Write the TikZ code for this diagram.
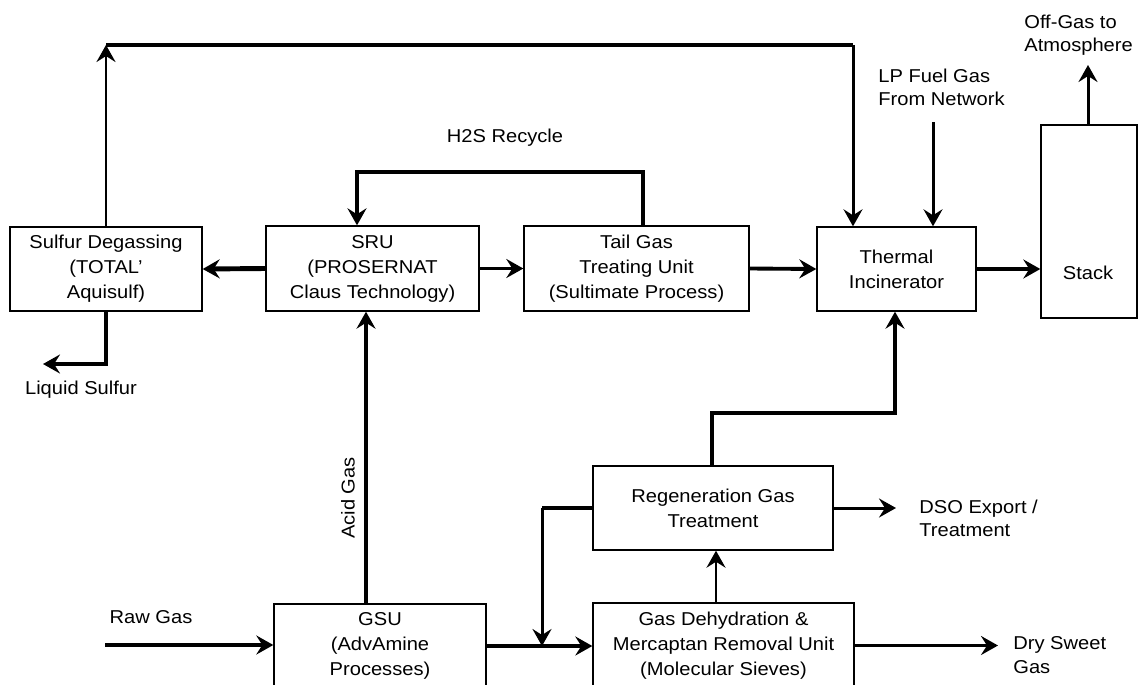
\documentclass[tikz,border=0pt]{standalone}
\usepackage{fontspec}
\setmainfont{Liberation Sans}[FakeStretch=1.08]
\usetikzlibrary{arrows.meta}
\tikzset{
    unit/.style={draw, line width=0.8pt, align=center, inner sep=0pt,
        font=\fontsize{10.6pt}{14.2pt}\selectfont},
    tag/.style={align=left, inner sep=0pt,
        font=\fontsize{10.6pt}{13.4pt}\selectfont},
    barb/.tip={Stealth[length=0.34cm, width=0.38cm, inset=0.12cm]},
    flow/.style={-{barb}, line width=1.7pt},
    midflow/.style={-{barb}, line width=2.2pt},
    heavy/.style={line width=2.8pt},
    heavyflow/.style={-{barb}, line width=2.8pt},
    thinflow/.style={-{barb}, line width=1.4pt}
}

\begin{document}
\begin{tikzpicture}[x=0.02cm, y=-0.02cm]
    \useasboundingbox (0,0) rectangle (1139,684);
    \clip (0,0) rectangle (1139,684);
    % process units
    \node[unit, minimum width=3.84cm, minimum height=1.68cm] (degas) at (106,269) {Sulfur Degassing\\(TOTAL'\\Aquisulf)};
    \node[unit, minimum width=4.26cm, minimum height=1.70cm] (sru) at (372.5,268.5) {SRU\\(PROSERNAT\\Claus Technology)};
    \node[unit, minimum width=4.50cm, minimum height=1.70cm] (tgtu) at (636.5,268.5) {Tail Gas\\Treating Unit\\(Sultimate Process)};
    \node[unit, minimum width=3.18cm, minimum height=1.68cm] (incin) at (896.5,269) {Thermal\\Incinerator};
    \node[unit, minimum width=1.92cm, minimum height=3.86cm] (stack) at (1089,221.5) {};
    \node[unit, minimum width=4.80cm, minimum height=1.68cm] (regen) at (713,508) {Regeneration Gas\\Treatment};
    \node[unit, minimum width=4.24cm, minimum height=1.68cm] (gsu) at (380,646) {GSU\\(AdvAmine\\Processes)};
    \node[unit, minimum width=5.22cm, minimum height=1.70cm] (dehyd) at (723.5,645.5) {Gas Dehydration \&\\Mercaptan Removal Unit\\(Molecular Sieves)};
    \node[unit, draw=none] (stacktxt) at (1088,273) {Stack};

    \coordinate (tl) at (106,45);
    \coordinate (tr) at (853,45);
    \coordinate (ls) at (43,364);
    \coordinate (rc1) at (643,172);
    \coordinate (rc2) at (357,172);
    \coordinate (lp) at (933,122);
    \coordinate (off) at (1088,65);
    \coordinate (acid) at (366,498);
    \coordinate (raw) at (105,645);
    \coordinate (rs) at (542,508);
    \coordinate (rt1) at (712,413);
    \coordinate (rt2) at (895,413);
    \coordinate (dso) at (896,508);
    \coordinate (dry) at (998,645);

    % sulfur side
    \draw[flow] (degas.north) -- (tl);
    \draw[heavy] (tl) -- (tr);
    \draw[flow] (tr) -- (tr |- incin.north);
    \draw[heavyflow] (sru.west) -- (degas.east);
    \draw[heavyflow] (degas.south) |- (ls);
    \draw[heavyflow] (rc1 |- tgtu.north) -- (rc1) -- (rc2) -- (rc2 |- sru.north);
    \draw[midflow] (sru.east) -- (tgtu.west);
    \draw[midflow] (tgtu.east) -- (incin.west);
    \draw[midflow] (incin.east) -- (incin.east -| stack.west);
    \draw[flow] (lp) -- (lp |- incin.north);
    \draw[flow] (stack.north -| off) -- (off);

    % gas side
    \draw[midflow] (gsu.north -| acid) -- (sru.south -| acid);
    \draw[midflow] (raw) -- (raw -| gsu.west);
    \draw[midflow] (gsu.east) -- (gsu.east -| dehyd.west);
    \draw[heavy] (regen.west) -- (rs);
    \draw[flow] (rs) -- (rs |- gsu.east);
    \draw[thinflow] ([xshift=-0.15cm]dehyd.north) -- ([xshift=-0.15cm]dehyd.north |- regen.south);
    \draw[heavyflow] (regen.north -| rt1) -- (rt1) -- (rt2) -- (rt2 |- incin.south);
    \draw[flow] (regen.east) -- (dso);
    \draw[flow] (dehyd.east) -- (dehyd.east -| dry);

    % stream labels
    \node[tag] (lsul) at (81,390) {Liquid Sulfur};
    \node[tag] (h2s) at (505,138) {H2S Recycle};
    \node[tag, anchor=west] (fuel) at (878,87.5) {LP Fuel Gas\\From Network};
    \node[tag, anchor=west] (atm) at (1024,35) {Off-Gas to\\Atmosphere};
    \node[tag, rotate=90] (agas) at (348,498) {Acid Gas};
    \node[tag] (rgas) at (151,617) {Raw Gas};
    \node[tag, anchor=west] (dsol) at (919,518.5) {DSO Export /\\Treatment};
    \node[tag, anchor=west] (sweet) at (1013,655) {Dry Sweet\\Gas};
\end{tikzpicture}
\end{document}
